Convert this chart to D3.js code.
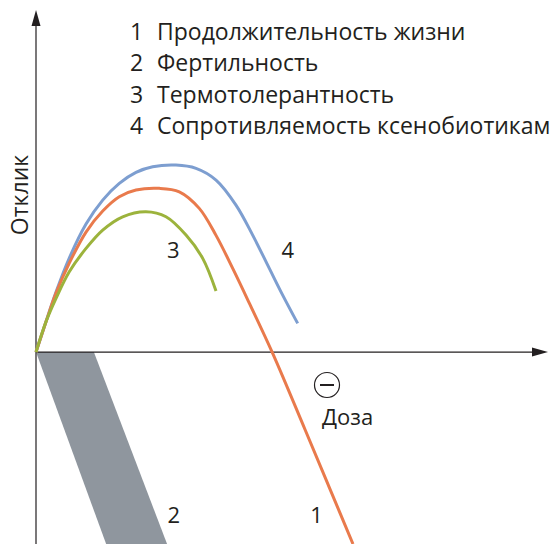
<!DOCTYPE html>
<html>
<head>
<meta charset="utf-8">
<script src="https://cdn.jsdelivr.net/npm/d3@7"></script>
<style>
  html, body { margin: 0; padding: 0; background: #fff; }
  svg text { font-family: 'Open Sans', 'Noto Sans', sans-serif; fill: #231f20; }
</style>
</head>
<body>
<svg id="chart" width="557" height="544"></svg>
<script>
// dose (0..100) vs response
const legendItems = ['Продолжительность жизни', 'Фертильность', 'Термотолерантность', 'Сопротивляемость ксенобиотикам'];

const lifespan = [
    [0, 0], [1.95, 8.86], [3.91, 17.25], [6.50, 26.02], [9.77, 35.08], [13.03, 41.22],
    [16.27, 45.40], [19.53, 47.36], [24.08, 47.86], [27.99, 46.86], [31.89, 42.01],
    [35.16, 34.12], [38.42, 24.47], [41.66, 14.32], [46.23, -0.38],
    [52.54, -22.63], [57.42, -40.05], [61.91, -56.1]
];
const thermo = [
    [0, 0], [1.95, 8.86], [3.91, 15.70], [6.50, 23.47], [9.77, 30.31], [13.03, 35.66],
    [16.93, 39.55], [21.48, 41.01], [25.39, 39.55], [29.30, 34.20], [32.56, 27.39],
    [35.16, 17.83]
];
const xenobiotic = [
    [0, 0], [1.95, 8.86], [3.91, 17.54], [6.50, 27.48], [9.77, 37.42], [13.03, 44.43],
    [16.27, 49.31], [19.53, 52.53], [22.79, 54.17], [27.34, 54.66], [31.25, 53.70],
    [35.16, 50.28], [39.06, 42.97], [42.32, 34.20], [45.57, 24.47], [48.18, 16.66],
    [51.11, 8.39]
];
// fertility band: response, left dose, right dose
const fertility = [
    [0, 0, 11.3],
    [-56.1, 13.7, 25.6]
];

const curveLabels = [
    {text: '1', dose: 54.8, resp: -47.7},
    {text: '2', dose: 26.9, resp: -47.7},
    {text: '3', dose: 26.8, resp: 29.8},
    {text: '4', dose: 49.2, resp: 29.8}
];

const svg = d3.select('svg#chart');

const x = d3.scaleLinear().domain([0, 100]).range([36, 548]);
const y = d3.scaleLinear().domain([-56.1, 100]).range([544, 10]);

const ink = '#231f20';

// fertility band
svg.append('path')
    .datum(fertility)
    .attr('fill', '#8f969e')
    .attr('d', d3.area()
        .y(d => y(d[0]))
        .x0(d => x(d[1]))
        .x1(d => x(d[2])));

// axes
svg.append('line')
    .attr('x1', x(0)).attr('x2', x(100) - 10)
    .attr('y1', y(0)).attr('y2', y(0))
    .attr('stroke', ink).attr('stroke-width', 1.2);
svg.append('path')
    .attr('d', `M${x(100)},${y(0)} l-16,-4.5 l0,9 z`)
    .attr('fill', ink);

svg.append('line')
    .attr('x1', x(0)).attr('x2', x(0))
    .attr('y1', y(-56.1)).attr('y2', y(100) + 10)
    .attr('stroke', ink).attr('stroke-width', 1.2);
svg.append('path')
    .attr('d', `M${x(0)},${y(100)} l-4.5,16 l9,0 z`)
    .attr('fill', ink);

const line = d3.line()
    .x(d => x(d[0]))
    .y(d => y(d[1]))
    .curve(d3.curveCatmullRom.alpha(0.5));

const series = [
    {data: xenobiotic, color: '#7d9ed0'},
    {data: lifespan, color: '#e97a4c'},
    {data: thermo, color: '#9cb33c'}
];

series.forEach(s => {
    svg.append('path')
        .datum(s.data)
        .attr('fill', 'none')
        .attr('stroke', s.color)
        .attr('stroke-width', 3)
        .attr('stroke-linejoin', 'round')
        .attr('d', line);
});

// curve numbers
svg.selectAll('text.num')
    .data(curveLabels)
    .join('text')
    .attr('class', 'num')
    .attr('x', d => x(d.dose))
    .attr('y', d => y(d.resp))
    .attr('text-anchor', 'middle')
    .attr('dy', '0.36em')
    .style('font-size', '22px')
    .text(d => d.text);

// legend
const legend = svg.append('g');
legendItems.forEach((t, i) => {
    const ly = 40 + i * 31.3;
    legend.append('text')
        .attr('x', 130).attr('y', ly)
        .style('font-size', '23px')
        .text(i + 1);
    legend.append('text')
        .attr('x', 157).attr('y', ly)
        .style('font-size', '23px')
        .text(t);
});

// axis titles
svg.append('text')
    .attr('transform', 'translate(28,195) rotate(-90)')
    .attr('text-anchor', 'middle')
    .style('font-size', '23px')
    .text('Отклик');

svg.append('text')
    .attr('x', 322).attr('y', 425)
    .style('font-size', '22px')
    .text('Доза');

// minus sign in circle
svg.append('circle')
    .attr('cx', 327).attr('cy', 385).attr('r', 12.5)
    .attr('fill', 'none').attr('stroke', ink).attr('stroke-width', 1.2);
svg.append('line')
    .attr('x1', 320).attr('x2', 334)
    .attr('y1', 385).attr('y2', 385)
    .attr('stroke', ink).attr('stroke-width', 2);
</script>
</body>
</html>
